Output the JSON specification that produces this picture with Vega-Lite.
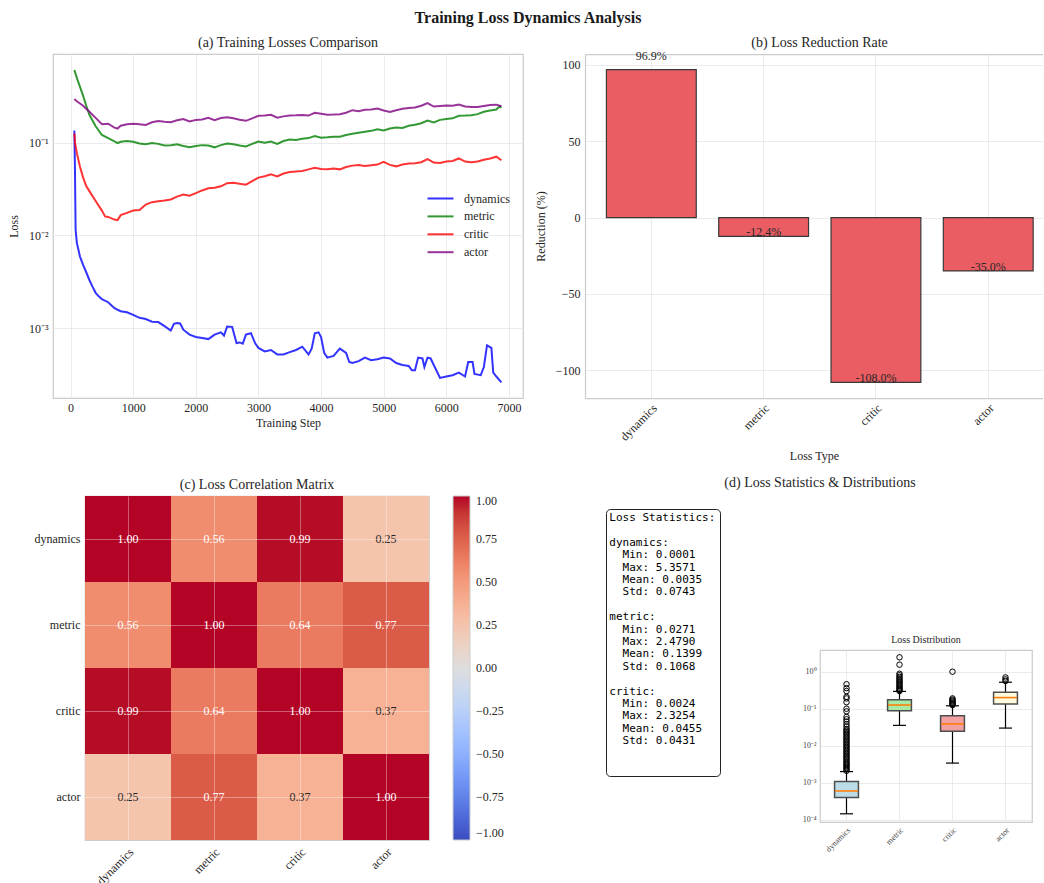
{
  "$schema": "https://vega.github.io/schema/vega-lite/v6.json",
  "padding": {"left": 6, "top": 10, "right": 0, "bottom": 0},
  "background": "white",
  "config": {
    "font": "Liberation Serif",
    "view": {"stroke": null},
    "axis": {
      "labelFont": "Liberation Serif", "titleFont": "Liberation Serif",
      "labelFontSize": 12, "titleFontSize": 12, "titleFontWeight": "normal",
      "labelColor": "#262626", "titleColor": "#262626",
      "gridColor": "#e6e6e6", "gridWidth": 0.8,
      "domain": false, "ticks": false, "tickSize": 0, "labelPadding": 4
    },
    "legend": {"labelFont": "Liberation Serif", "labelFontSize": 12, "labelColor": "#262626"},
    "title": {"font": "Liberation Serif", "fontSize": 14, "fontWeight": "normal", "color": "#262626", "offset": 4, "frame": "group"},
    "text": {"font": "Liberation Serif"}
  },
  "datasets": {
    "losses": [
      {"series": "dynamics", "step": 60, "loss": 0.135},
      {"series": "dynamics", "step": 70, "loss": 0.05},
      {"series": "dynamics", "step": 80, "loss": 0.0115},
      {"series": "dynamics", "step": 100, "loss": 0.0083},
      {"series": "dynamics", "step": 150, "loss": 0.0059},
      {"series": "dynamics", "step": 200, "loss": 0.0048},
      {"series": "dynamics", "step": 250, "loss": 0.004},
      {"series": "dynamics", "step": 300, "loss": 0.0033},
      {"series": "dynamics", "step": 350, "loss": 0.0028},
      {"series": "dynamics", "step": 400, "loss": 0.0024},
      {"series": "dynamics", "step": 450, "loss": 0.0022},
      {"series": "dynamics", "step": 500, "loss": 0.00205},
      {"series": "dynamics", "step": 600, "loss": 0.0019},
      {"series": "dynamics", "step": 700, "loss": 0.00164},
      {"series": "dynamics", "step": 800, "loss": 0.00152},
      {"series": "dynamics", "step": 900, "loss": 0.00148},
      {"series": "dynamics", "step": 1000, "loss": 0.00139},
      {"series": "dynamics", "step": 1100, "loss": 0.00129},
      {"series": "dynamics", "step": 1200, "loss": 0.00125},
      {"series": "dynamics", "step": 1300, "loss": 0.00117},
      {"series": "dynamics", "step": 1400, "loss": 0.00116},
      {"series": "dynamics", "step": 1500, "loss": 0.00105},
      {"series": "dynamics", "step": 1600, "loss": 0.00094},
      {"series": "dynamics", "step": 1650, "loss": 0.00111},
      {"series": "dynamics", "step": 1700, "loss": 0.00113},
      {"series": "dynamics", "step": 1750, "loss": 0.00112},
      {"series": "dynamics", "step": 1800, "loss": 0.00096},
      {"series": "dynamics", "step": 1900, "loss": 0.00085},
      {"series": "dynamics", "step": 2000, "loss": 0.0008},
      {"series": "dynamics", "step": 2100, "loss": 0.00078},
      {"series": "dynamics", "step": 2200, "loss": 0.00076},
      {"series": "dynamics", "step": 2300, "loss": 0.00085},
      {"series": "dynamics", "step": 2400, "loss": 0.0009},
      {"series": "dynamics", "step": 2450, "loss": 0.00083},
      {"series": "dynamics", "step": 2500, "loss": 0.00104},
      {"series": "dynamics", "step": 2580, "loss": 0.00103},
      {"series": "dynamics", "step": 2650, "loss": 0.00069},
      {"series": "dynamics", "step": 2700, "loss": 0.0007},
      {"series": "dynamics", "step": 2750, "loss": 0.00068},
      {"series": "dynamics", "step": 2800, "loss": 0.00085},
      {"series": "dynamics", "step": 2880, "loss": 0.00088},
      {"series": "dynamics", "step": 2950, "loss": 0.00068},
      {"series": "dynamics", "step": 3000, "loss": 0.00061},
      {"series": "dynamics", "step": 3100, "loss": 0.00056},
      {"series": "dynamics", "step": 3200, "loss": 0.00058},
      {"series": "dynamics", "step": 3300, "loss": 0.00052},
      {"series": "dynamics", "step": 3400, "loss": 0.00052},
      {"series": "dynamics", "step": 3500, "loss": 0.00055},
      {"series": "dynamics", "step": 3600, "loss": 0.00058},
      {"series": "dynamics", "step": 3700, "loss": 0.00063},
      {"series": "dynamics", "step": 3800, "loss": 0.00052},
      {"series": "dynamics", "step": 3850, "loss": 0.0006},
      {"series": "dynamics", "step": 3900, "loss": 0.00088},
      {"series": "dynamics", "step": 3960, "loss": 0.0009},
      {"series": "dynamics", "step": 4000, "loss": 0.0008},
      {"series": "dynamics", "step": 4050, "loss": 0.00054},
      {"series": "dynamics", "step": 4100, "loss": 0.00048},
      {"series": "dynamics", "step": 4200, "loss": 0.0005},
      {"series": "dynamics", "step": 4300, "loss": 0.0006},
      {"series": "dynamics", "step": 4400, "loss": 0.00054},
      {"series": "dynamics", "step": 4450, "loss": 0.00043},
      {"series": "dynamics", "step": 4500, "loss": 0.00042},
      {"series": "dynamics", "step": 4600, "loss": 0.00044},
      {"series": "dynamics", "step": 4700, "loss": 0.00048},
      {"series": "dynamics", "step": 4800, "loss": 0.00045},
      {"series": "dynamics", "step": 4900, "loss": 0.00046},
      {"series": "dynamics", "step": 5000, "loss": 0.00048},
      {"series": "dynamics", "step": 5100, "loss": 0.00047},
      {"series": "dynamics", "step": 5200, "loss": 0.00042},
      {"series": "dynamics", "step": 5300, "loss": 0.0004},
      {"series": "dynamics", "step": 5400, "loss": 0.00039},
      {"series": "dynamics", "step": 5450, "loss": 0.00035},
      {"series": "dynamics", "step": 5500, "loss": 0.00035},
      {"series": "dynamics", "step": 5550, "loss": 0.00048},
      {"series": "dynamics", "step": 5620, "loss": 0.00047},
      {"series": "dynamics", "step": 5650, "loss": 0.00038},
      {"series": "dynamics", "step": 5700, "loss": 0.00048},
      {"series": "dynamics", "step": 5750, "loss": 0.00047},
      {"series": "dynamics", "step": 5800, "loss": 0.0004},
      {"series": "dynamics", "step": 5850, "loss": 0.00034},
      {"series": "dynamics", "step": 5900, "loss": 0.00029},
      {"series": "dynamics", "step": 6000, "loss": 0.0003},
      {"series": "dynamics", "step": 6100, "loss": 0.00031},
      {"series": "dynamics", "step": 6200, "loss": 0.00033},
      {"series": "dynamics", "step": 6300, "loss": 0.0003},
      {"series": "dynamics", "step": 6350, "loss": 0.00043},
      {"series": "dynamics", "step": 6420, "loss": 0.00043},
      {"series": "dynamics", "step": 6450, "loss": 0.00032},
      {"series": "dynamics", "step": 6550, "loss": 0.00031},
      {"series": "dynamics", "step": 6600, "loss": 0.00038},
      {"series": "dynamics", "step": 6650, "loss": 0.00065},
      {"series": "dynamics", "step": 6720, "loss": 0.00061},
      {"series": "dynamics", "step": 6750, "loss": 0.00033},
      {"series": "dynamics", "step": 6800, "loss": 0.0003},
      {"series": "dynamics", "step": 6880, "loss": 0.00026},

      {"series": "metric", "step": 60, "loss": 0.607},
      {"series": "metric", "step": 100, "loss": 0.5},
      {"series": "metric", "step": 150, "loss": 0.4},
      {"series": "metric", "step": 200, "loss": 0.32},
      {"series": "metric", "step": 250, "loss": 0.25},
      {"series": "metric", "step": 300, "loss": 0.2},
      {"series": "metric", "step": 400, "loss": 0.15},
      {"series": "metric", "step": 500, "loss": 0.121},
      {"series": "metric", "step": 600, "loss": 0.112},
      {"series": "metric", "step": 700, "loss": 0.103},
      {"series": "metric", "step": 750, "loss": 0.099},
      {"series": "metric", "step": 800, "loss": 0.102},
      {"series": "metric", "step": 900, "loss": 0.104},
      {"series": "metric", "step": 1000, "loss": 0.102},
      {"series": "metric", "step": 1100, "loss": 0.098},
      {"series": "metric", "step": 1200, "loss": 0.096},
      {"series": "metric", "step": 1300, "loss": 0.099},
      {"series": "metric", "step": 1400, "loss": 0.097},
      {"series": "metric", "step": 1500, "loss": 0.093},
      {"series": "metric", "step": 1600, "loss": 0.094},
      {"series": "metric", "step": 1700, "loss": 0.096},
      {"series": "metric", "step": 1800, "loss": 0.092},
      {"series": "metric", "step": 1900, "loss": 0.089},
      {"series": "metric", "step": 2000, "loss": 0.092},
      {"series": "metric", "step": 2100, "loss": 0.094},
      {"series": "metric", "step": 2200, "loss": 0.093},
      {"series": "metric", "step": 2300, "loss": 0.089},
      {"series": "metric", "step": 2400, "loss": 0.094},
      {"series": "metric", "step": 2500, "loss": 0.098},
      {"series": "metric", "step": 2600, "loss": 0.096},
      {"series": "metric", "step": 2700, "loss": 0.093},
      {"series": "metric", "step": 2800, "loss": 0.091},
      {"series": "metric", "step": 2900, "loss": 0.097},
      {"series": "metric", "step": 3000, "loss": 0.103},
      {"series": "metric", "step": 3100, "loss": 0.1},
      {"series": "metric", "step": 3200, "loss": 0.103},
      {"series": "metric", "step": 3300, "loss": 0.097},
      {"series": "metric", "step": 3400, "loss": 0.104},
      {"series": "metric", "step": 3500, "loss": 0.108},
      {"series": "metric", "step": 3600, "loss": 0.107},
      {"series": "metric", "step": 3700, "loss": 0.11},
      {"series": "metric", "step": 3800, "loss": 0.112},
      {"series": "metric", "step": 3900, "loss": 0.118},
      {"series": "metric", "step": 4000, "loss": 0.113},
      {"series": "metric", "step": 4100, "loss": 0.114},
      {"series": "metric", "step": 4200, "loss": 0.116},
      {"series": "metric", "step": 4300, "loss": 0.116},
      {"series": "metric", "step": 4400, "loss": 0.121},
      {"series": "metric", "step": 4500, "loss": 0.125},
      {"series": "metric", "step": 4600, "loss": 0.128},
      {"series": "metric", "step": 4700, "loss": 0.131},
      {"series": "metric", "step": 4800, "loss": 0.134},
      {"series": "metric", "step": 4900, "loss": 0.139},
      {"series": "metric", "step": 5000, "loss": 0.135},
      {"series": "metric", "step": 5100, "loss": 0.142},
      {"series": "metric", "step": 5200, "loss": 0.146},
      {"series": "metric", "step": 5300, "loss": 0.144},
      {"series": "metric", "step": 5400, "loss": 0.152},
      {"series": "metric", "step": 5500, "loss": 0.156},
      {"series": "metric", "step": 5600, "loss": 0.162},
      {"series": "metric", "step": 5700, "loss": 0.173},
      {"series": "metric", "step": 5800, "loss": 0.165},
      {"series": "metric", "step": 5900, "loss": 0.176},
      {"series": "metric", "step": 6000, "loss": 0.18},
      {"series": "metric", "step": 6100, "loss": 0.183},
      {"series": "metric", "step": 6200, "loss": 0.195},
      {"series": "metric", "step": 6300, "loss": 0.196},
      {"series": "metric", "step": 6400, "loss": 0.198},
      {"series": "metric", "step": 6500, "loss": 0.203},
      {"series": "metric", "step": 6600, "loss": 0.215},
      {"series": "metric", "step": 6700, "loss": 0.222},
      {"series": "metric", "step": 6800, "loss": 0.228},
      {"series": "metric", "step": 6850, "loss": 0.246},
      {"series": "metric", "step": 6880, "loss": 0.238},

      {"series": "critic", "step": 60, "loss": 0.126},
      {"series": "critic", "step": 70, "loss": 0.1},
      {"series": "critic", "step": 100, "loss": 0.077},
      {"series": "critic", "step": 150, "loss": 0.055},
      {"series": "critic", "step": 200, "loss": 0.042},
      {"series": "critic", "step": 250, "loss": 0.034},
      {"series": "critic", "step": 300, "loss": 0.03},
      {"series": "critic", "step": 400, "loss": 0.0235},
      {"series": "critic", "step": 500, "loss": 0.0185},
      {"series": "critic", "step": 550, "loss": 0.016},
      {"series": "critic", "step": 600, "loss": 0.0158},
      {"series": "critic", "step": 700, "loss": 0.0148},
      {"series": "critic", "step": 750, "loss": 0.0146},
      {"series": "critic", "step": 800, "loss": 0.0165},
      {"series": "critic", "step": 900, "loss": 0.0175},
      {"series": "critic", "step": 1000, "loss": 0.0185},
      {"series": "critic", "step": 1100, "loss": 0.0188},
      {"series": "critic", "step": 1200, "loss": 0.0215},
      {"series": "critic", "step": 1300, "loss": 0.0228},
      {"series": "critic", "step": 1400, "loss": 0.0233},
      {"series": "critic", "step": 1500, "loss": 0.0237},
      {"series": "critic", "step": 1600, "loss": 0.0244},
      {"series": "critic", "step": 1700, "loss": 0.0262},
      {"series": "critic", "step": 1800, "loss": 0.0275},
      {"series": "critic", "step": 1900, "loss": 0.0268},
      {"series": "critic", "step": 2000, "loss": 0.0285},
      {"series": "critic", "step": 2100, "loss": 0.0305},
      {"series": "critic", "step": 2200, "loss": 0.0322},
      {"series": "critic", "step": 2300, "loss": 0.0326},
      {"series": "critic", "step": 2400, "loss": 0.0338},
      {"series": "critic", "step": 2500, "loss": 0.0365},
      {"series": "critic", "step": 2600, "loss": 0.037},
      {"series": "critic", "step": 2700, "loss": 0.036},
      {"series": "critic", "step": 2800, "loss": 0.0352},
      {"series": "critic", "step": 2900, "loss": 0.0385},
      {"series": "critic", "step": 3000, "loss": 0.042},
      {"series": "critic", "step": 3100, "loss": 0.0435},
      {"series": "critic", "step": 3200, "loss": 0.0455},
      {"series": "critic", "step": 3300, "loss": 0.0432},
      {"series": "critic", "step": 3400, "loss": 0.0465},
      {"series": "critic", "step": 3500, "loss": 0.0482},
      {"series": "critic", "step": 3600, "loss": 0.0488},
      {"series": "critic", "step": 3700, "loss": 0.0495},
      {"series": "critic", "step": 3800, "loss": 0.0515},
      {"series": "critic", "step": 3900, "loss": 0.0535},
      {"series": "critic", "step": 4000, "loss": 0.052},
      {"series": "critic", "step": 4100, "loss": 0.0515},
      {"series": "critic", "step": 4200, "loss": 0.0525},
      {"series": "critic", "step": 4300, "loss": 0.0515},
      {"series": "critic", "step": 4400, "loss": 0.0545},
      {"series": "critic", "step": 4500, "loss": 0.0565},
      {"series": "critic", "step": 4600, "loss": 0.0575},
      {"series": "critic", "step": 4700, "loss": 0.056},
      {"series": "critic", "step": 4800, "loss": 0.057},
      {"series": "critic", "step": 4900, "loss": 0.058},
      {"series": "critic", "step": 5000, "loss": 0.062},
      {"series": "critic", "step": 5100, "loss": 0.0575},
      {"series": "critic", "step": 5200, "loss": 0.0555},
      {"series": "critic", "step": 5300, "loss": 0.058},
      {"series": "critic", "step": 5400, "loss": 0.0595},
      {"series": "critic", "step": 5500, "loss": 0.06},
      {"series": "critic", "step": 5600, "loss": 0.0615},
      {"series": "critic", "step": 5700, "loss": 0.0665},
      {"series": "critic", "step": 5800, "loss": 0.061},
      {"series": "critic", "step": 5900, "loss": 0.0605},
      {"series": "critic", "step": 6000, "loss": 0.0625},
      {"series": "critic", "step": 6100, "loss": 0.0635},
      {"series": "critic", "step": 6200, "loss": 0.0675},
      {"series": "critic", "step": 6300, "loss": 0.0625},
      {"series": "critic", "step": 6400, "loss": 0.0615},
      {"series": "critic", "step": 6500, "loss": 0.0625},
      {"series": "critic", "step": 6600, "loss": 0.0655},
      {"series": "critic", "step": 6700, "loss": 0.0675},
      {"series": "critic", "step": 6800, "loss": 0.0705},
      {"series": "critic", "step": 6880, "loss": 0.0645},

      {"series": "actor", "step": 60, "loss": 0.295},
      {"series": "actor", "step": 100, "loss": 0.28},
      {"series": "actor", "step": 200, "loss": 0.25},
      {"series": "actor", "step": 300, "loss": 0.215},
      {"series": "actor", "step": 400, "loss": 0.185},
      {"series": "actor", "step": 500, "loss": 0.158},
      {"series": "actor", "step": 600, "loss": 0.16},
      {"series": "actor", "step": 700, "loss": 0.145},
      {"series": "actor", "step": 750, "loss": 0.142},
      {"series": "actor", "step": 800, "loss": 0.152},
      {"series": "actor", "step": 900, "loss": 0.158},
      {"series": "actor", "step": 1000, "loss": 0.16},
      {"series": "actor", "step": 1100, "loss": 0.158},
      {"series": "actor", "step": 1200, "loss": 0.155},
      {"series": "actor", "step": 1300, "loss": 0.166},
      {"series": "actor", "step": 1400, "loss": 0.171},
      {"series": "actor", "step": 1500, "loss": 0.168},
      {"series": "actor", "step": 1600, "loss": 0.166},
      {"series": "actor", "step": 1700, "loss": 0.174},
      {"series": "actor", "step": 1800, "loss": 0.18},
      {"series": "actor", "step": 1900, "loss": 0.169},
      {"series": "actor", "step": 2000, "loss": 0.176},
      {"series": "actor", "step": 2100, "loss": 0.178},
      {"series": "actor", "step": 2200, "loss": 0.185},
      {"series": "actor", "step": 2300, "loss": 0.175},
      {"series": "actor", "step": 2400, "loss": 0.184},
      {"series": "actor", "step": 2500, "loss": 0.188},
      {"series": "actor", "step": 2600, "loss": 0.183},
      {"series": "actor", "step": 2700, "loss": 0.177},
      {"series": "actor", "step": 2800, "loss": 0.172},
      {"series": "actor", "step": 2900, "loss": 0.183},
      {"series": "actor", "step": 3000, "loss": 0.195},
      {"series": "actor", "step": 3100, "loss": 0.196},
      {"series": "actor", "step": 3200, "loss": 0.2},
      {"series": "actor", "step": 3300, "loss": 0.186},
      {"series": "actor", "step": 3400, "loss": 0.192},
      {"series": "actor", "step": 3500, "loss": 0.196},
      {"series": "actor", "step": 3600, "loss": 0.197},
      {"series": "actor", "step": 3700, "loss": 0.199},
      {"series": "actor", "step": 3800, "loss": 0.196},
      {"series": "actor", "step": 3900, "loss": 0.21},
      {"series": "actor", "step": 4000, "loss": 0.205},
      {"series": "actor", "step": 4100, "loss": 0.2},
      {"series": "actor", "step": 4200, "loss": 0.201},
      {"series": "actor", "step": 4300, "loss": 0.203},
      {"series": "actor", "step": 4400, "loss": 0.21},
      {"series": "actor", "step": 4500, "loss": 0.224},
      {"series": "actor", "step": 4600, "loss": 0.218},
      {"series": "actor", "step": 4700, "loss": 0.226},
      {"series": "actor", "step": 4800, "loss": 0.228},
      {"series": "actor", "step": 4900, "loss": 0.233},
      {"series": "actor", "step": 5000, "loss": 0.222},
      {"series": "actor", "step": 5100, "loss": 0.214},
      {"series": "actor", "step": 5200, "loss": 0.224},
      {"series": "actor", "step": 5300, "loss": 0.232},
      {"series": "actor", "step": 5400, "loss": 0.237},
      {"series": "actor", "step": 5500, "loss": 0.24},
      {"series": "actor", "step": 5600, "loss": 0.25},
      {"series": "actor", "step": 5700, "loss": 0.267},
      {"series": "actor", "step": 5750, "loss": 0.255},
      {"series": "actor", "step": 5800, "loss": 0.245},
      {"series": "actor", "step": 5900, "loss": 0.249},
      {"series": "actor", "step": 6000, "loss": 0.252},
      {"series": "actor", "step": 6100, "loss": 0.25},
      {"series": "actor", "step": 6200, "loss": 0.257},
      {"series": "actor", "step": 6300, "loss": 0.245},
      {"series": "actor", "step": 6400, "loss": 0.243},
      {"series": "actor", "step": 6500, "loss": 0.242},
      {"series": "actor", "step": 6600, "loss": 0.249},
      {"series": "actor", "step": 6700, "loss": 0.255},
      {"series": "actor", "step": 6800, "loss": 0.257},
      {"series": "actor", "step": 6880, "loss": 0.247}
    ],
    "reduction": [
      {"loss": "dynamics", "reduction": 96.9},
      {"loss": "metric", "reduction": -12.4},
      {"loss": "critic", "reduction": -108.0},
      {"loss": "actor", "reduction": -35.0}
    ],
    "corr": [
      {"row": "dynamics", "col": "dynamics", "r": 1.0},
      {"row": "dynamics", "col": "metric", "r": 0.56},
      {"row": "dynamics", "col": "critic", "r": 0.99},
      {"row": "dynamics", "col": "actor", "r": 0.25},
      {"row": "metric", "col": "dynamics", "r": 0.56},
      {"row": "metric", "col": "metric", "r": 1.0},
      {"row": "metric", "col": "critic", "r": 0.64},
      {"row": "metric", "col": "actor", "r": 0.77},
      {"row": "critic", "col": "dynamics", "r": 0.99},
      {"row": "critic", "col": "metric", "r": 0.64},
      {"row": "critic", "col": "critic", "r": 1.0},
      {"row": "critic", "col": "actor", "r": 0.37},
      {"row": "actor", "col": "dynamics", "r": 0.25},
      {"row": "actor", "col": "metric", "r": 0.77},
      {"row": "actor", "col": "critic", "r": 0.37},
      {"row": "actor", "col": "actor", "r": 1.0}
    ],
    "stats": [
      {"report": "Loss Statistics:\n\u200b\ndynamics:\n\u200b\u00a0\u00a0Min: 0.0001\n\u200b\u00a0\u00a0Max: 5.3571\n\u200b\u00a0\u00a0Mean: 0.0035\n\u200b\u00a0\u00a0Std: 0.0743\n\u200b\nmetric:\n\u200b\u00a0\u00a0Min: 0.0271\n\u200b\u00a0\u00a0Max: 2.4790\n\u200b\u00a0\u00a0Mean: 0.1399\n\u200b\u00a0\u00a0Std: 0.1068\n\u200b\ncritic:\n\u200b\u00a0\u00a0Min: 0.0024\n\u200b\u00a0\u00a0Max: 2.3254\n\u200b\u00a0\u00a0Mean: 0.0455\n\u200b\u00a0\u00a0Std: 0.0431"}
    ],
    "boxstats": [
      {"loss": "dynamics", "lower": 0.000145, "q1": 0.0004, "median": 0.0006, "q3": 0.00108, "upper": 0.002},
      {"loss": "metric", "lower": 0.0355, "q1": 0.088, "median": 0.126, "q3": 0.175, "upper": 0.294},
      {"loss": "critic", "lower": 0.0034, "q1": 0.0246, "median": 0.039, "q3": 0.065, "upper": 0.12},
      {"loss": "actor", "lower": 0.03, "q1": 0.134, "median": 0.2, "q3": 0.28, "upper": 0.52}
    ],
    "outliers": [
      {"loss": "dynamics", "value": 0.0021}, {"loss": "dynamics", "value": 0.0023}, {"loss": "dynamics", "value": 0.0025},
      {"loss": "dynamics", "value": 0.0027}, {"loss": "dynamics", "value": 0.003}, {"loss": "dynamics", "value": 0.0032},
      {"loss": "dynamics", "value": 0.0035}, {"loss": "dynamics", "value": 0.0038}, {"loss": "dynamics", "value": 0.0042},
      {"loss": "dynamics", "value": 0.0046}, {"loss": "dynamics", "value": 0.005}, {"loss": "dynamics", "value": 0.0055},
      {"loss": "dynamics", "value": 0.006}, {"loss": "dynamics", "value": 0.0066}, {"loss": "dynamics", "value": 0.0072},
      {"loss": "dynamics", "value": 0.0079}, {"loss": "dynamics", "value": 0.0087}, {"loss": "dynamics", "value": 0.0095},
      {"loss": "dynamics", "value": 0.0104}, {"loss": "dynamics", "value": 0.0114}, {"loss": "dynamics", "value": 0.0125},
      {"loss": "dynamics", "value": 0.0137}, {"loss": "dynamics", "value": 0.015}, {"loss": "dynamics", "value": 0.0165},
      {"loss": "dynamics", "value": 0.018}, {"loss": "dynamics", "value": 0.0198}, {"loss": "dynamics", "value": 0.0217},
      {"loss": "dynamics", "value": 0.0238}, {"loss": "dynamics", "value": 0.026}, {"loss": "dynamics", "value": 0.0285},
      {"loss": "dynamics", "value": 0.033}, {"loss": "dynamics", "value": 0.038}, {"loss": "dynamics", "value": 0.045},
      {"loss": "dynamics", "value": 0.052}, {"loss": "dynamics", "value": 0.06}, {"loss": "dynamics", "value": 0.085},
      {"loss": "dynamics", "value": 0.1}, {"loss": "dynamics", "value": 0.15}, {"loss": "dynamics", "value": 0.19},
      {"loss": "dynamics", "value": 0.21}, {"loss": "dynamics", "value": 0.3}, {"loss": "dynamics", "value": 0.36},
      {"loss": "dynamics", "value": 0.46},
      {"loss": "metric", "value": 0.3}, {"loss": "metric", "value": 0.32}, {"loss": "metric", "value": 0.34},
      {"loss": "metric", "value": 0.37}, {"loss": "metric", "value": 0.4}, {"loss": "metric", "value": 0.43},
      {"loss": "metric", "value": 0.47}, {"loss": "metric", "value": 0.51}, {"loss": "metric", "value": 0.55},
      {"loss": "metric", "value": 0.6}, {"loss": "metric", "value": 0.66}, {"loss": "metric", "value": 0.72},
      {"loss": "metric", "value": 0.8}, {"loss": "metric", "value": 0.88}, {"loss": "metric", "value": 1.55},
      {"loss": "metric", "value": 2.45},
      {"loss": "critic", "value": 0.125}, {"loss": "critic", "value": 0.132}, {"loss": "critic", "value": 0.14},
      {"loss": "critic", "value": 0.148}, {"loss": "critic", "value": 0.157}, {"loss": "critic", "value": 0.166},
      {"loss": "critic", "value": 0.176}, {"loss": "critic", "value": 0.19}, {"loss": "critic", "value": 1.0},
      {"loss": "actor", "value": 0.56}, {"loss": "actor", "value": 0.62}, {"loss": "actor", "value": 0.7}
    ]
  },
  "vconcat": [
    {
      "width": 990, "height": 1,
      "title": {"text": "Training Loss Dynamics Analysis", "fontSize": 16, "fontWeight": "bold", "color": "#1a1a1a", "dx": -20, "offset": 27},
      "data": {"values": []}, "mark": "point"
    },
    {
      "hconcat": [
        {
          "width": 470, "height": 344,
          "title": {"text": "(a) Training Losses Comparison", "offset": 3.6},
          "data": {"name": "losses"},
          "view": {"stroke": "#cccccc", "strokeWidth": 1.25},
          "mark": {"type": "line", "strokeWidth": 2, "opacity": 0.8, "clip": true},
          "encoding": {
            "x": {"field": "step", "type": "quantitative",
                  "scale": {"domain": [-281, 7225], "nice": false, "zero": false},
                  "axis": {"title": "Training Step", "values": [0, 1000, 2000, 3000, 4000, 5000, 6000, 7000], "format": "d", "labelPadding": 4, "titlePadding": 4}},
            "y": {"field": "loss", "type": "quantitative",
                  "scale": {"type": "log", "domain": [0.000176, 0.904], "nice": false},
                  "axis": {"title": "Loss", "values": [0.001, 0.01, 0.1], "titleX": -33, "labelPadding": 5,
                           "labelExpr": "datum.value == 0.1 ? '10⁻¹' : datum.value == 0.01 ? '10⁻²' : '10⁻³'"}},
            "color": {"field": "series", "type": "nominal",
                      "scale": {"domain": ["dynamics", "metric", "critic", "actor"], "range": ["#0000ff", "#008000", "#ff0000", "#800080"]},
                      "legend": {"title": null, "orient": "none", "legendX": 380, "legendY": 137,
                                 "symbolType": "M-2,0L2,0", "symbolSize": 169, "symbolStrokeWidth": 2, "symbolOpacity": 0.8,
                                 "labelOffset": 16, "rowPadding": 3.9, "padding": 0, "labelFontSize": 12}}
          }
        },
        {
          "width": 458, "height": 344,
          "title": {"text": "(b) Loss Reduction Rate", "dx": 5.6, "offset": 0},
          "data": {"name": "reduction"},
          "transform": [{"calculate": "replace(format(datum.reduction, '.1f'), '\u2212', '-') + '%'", "as": "label"}],
          "layer": [
            {
              "mark": {"type": "bar", "fill": "#e95d63", "stroke": "#3a3a3a", "strokeWidth": 1.2},
              "encoding": {
                "x": {"field": "loss", "type": "nominal", "sort": null,
                      "scale": {"paddingInner": 0.2, "paddingOuter": 0.1392, "align": 0.685},
                      "axis": {"title": "Loss Type", "labelAngle": -45, "labelAlign": "right", "labelBaseline": "top",
                               "labelPadding": 4, "titlePadding": 8, "grid": true, "bandPosition": 0.5,
                               "domain": true, "domainColor": "#cccccc", "domainWidth": 1.25}},
                "y": {"field": "reduction", "type": "quantitative",
                      "scale": {"domain": [-118.2, 107.1], "nice": false, "zero": false},
                      "axis": {"title": "Reduction (%)", "values": [-100, -50, 0, 50, 100], "labelPadding": 5, "titlePadding": 8,
                               "domain": true, "domainColor": "#cccccc", "domainWidth": 1.25}}
              }
            },
            {
              "transform": [{"filter": "datum.reduction > 0"}],
              "mark": {"type": "text", "baseline": "middle", "dy": -14, "fontSize": 12, "color": "#262626"},
              "encoding": {
                "x": {"field": "loss", "type": "nominal", "sort": null,
                      "axis": {"orient": "top", "labels": false, "labelPadding": 0, "title": null, "grid": false,
                               "domain": true, "domainColor": "#cccccc", "domainWidth": 1.25}},
                "y": {"field": "reduction", "type": "quantitative"},
                "text": {"field": "label"}
              }
            },
            {
              "transform": [{"filter": "datum.reduction <= 0"}],
              "mark": {"type": "text", "baseline": "middle", "dy": -4, "fontSize": 12, "color": "#262626"},
              "encoding": {
                "x": {"field": "loss", "type": "nominal", "sort": null, "axis": null},
                "y": {"field": "reduction", "type": "quantitative"},
                "text": {"field": "label"}
              }
            }
          ],
          "resolve": {"axis": {"x": "independent"}}
        }
      ],
      "spacing": 62,
      "bounds": "flush"
    },
    {"width": 1, "height": 442, "data": {"values": []}, "mark": "point"},
    {
      "hconcat": [
        {"width": 32, "height": 10, "data": {"values": []}, "mark": "point"},
        {
          "width": 344, "height": 344,
          "title": {"text": "(c) Loss Correlation Matrix", "offset": 4.4},
          "data": {"name": "corr"},
          "view": {"stroke": "#cccccc", "strokeWidth": 1.25},
          "encoding": {
            "x": {"field": "col", "type": "nominal", "sort": ["dynamics", "metric", "critic", "actor"],
                  "scale": {"paddingInner": 0, "paddingOuter": 0},
                  "axis": {"title": null, "labelAngle": -45, "labelAlign": "right", "labelBaseline": "top", "labelPadding": 6,
                           "grid": true, "bandPosition": 0.5, "gridColor": "#ffffff", "gridOpacity": 0.35, "gridWidth": 1, "zindex": 1}},
            "y": {"field": "row", "type": "nominal", "sort": ["dynamics", "metric", "critic", "actor"],
                  "scale": {"paddingInner": 0, "paddingOuter": 0},
                  "axis": {"title": null, "labelPadding": 5,
                           "grid": true, "bandPosition": 0.5, "gridColor": "#ffffff", "gridOpacity": 0.35, "gridWidth": 1, "zindex": 1}}
          },
          "layer": [
            {
              "mark": {"type": "rect"},
              "encoding": {
                "color": {"field": "r", "type": "quantitative",
                          "scale": {"domain": [-1, -0.875, -0.75, -0.625, -0.5, -0.375, -0.25, -0.125, 0, 0.125, 0.25, 0.375, 0.5, 0.625, 0.75, 0.875, 1],
                                    "range": ["#3b4cc0", "#4d68d7", "#6282ea", "#779af7", "#8db0fe", "#a3c2ff", "#b8d0f9", "#ccd9ee", "#dddddd", "#ecd3c5", "#f5c4ad", "#f7b194", "#f49a7b", "#ec7f63", "#de604d", "#cb3e38", "#b40426"]},
                          "legend": {"title": null, "orient": "right", "offset": 24, "padding": 0, "direction": "vertical",
                                     "gradientLength": 344, "gradientThickness": 17, "gradientStrokeColor": "#cccccc", "gradientStrokeWidth": 1,
                                     "values": [-1, -0.75, -0.5, -0.25, 0, 0.25, 0.5, 0.75, 1], "format": ".2f",
                                     "labelOffset": 6, "labelOverlap": false, "labelBaseline": "middle", "labelFontSize": 12}}
              }
            },
            {
              "mark": {"type": "text", "fontSize": 12},
              "encoding": {
                "text": {"field": "r", "type": "quantitative", "format": ".2f"},
                "color": {"condition": {"test": "datum.r > 0.5", "value": "#ffffff"}, "value": "#262626"}
              }
            }
          ]
        },
        {"width": 177, "height": 10, "data": {"values": []}, "mark": "point"},
        {
          "hconcat": [
            {
              "vconcat": [
                {"width": 114, "height": 13, "data": {"values": []}, "mark": "point"},
                {
                  "width": 114, "height": 267,
                  "title": {"text": "(d) Loss Statistics & Distributions", "dx": 157, "offset": 19},
                  "data": {"name": "stats"},
                  "view": {"stroke": "#222222", "strokeWidth": 1, "cornerRadius": 4, "fill": "#ffffff"},
                  "mark": {"type": "text", "font": "DejaVu Sans Mono", "fontSize": 11, "lineBreak": "\n", "lineHeight": 12.4,
                           "align": "left", "baseline": "top", "color": "#000000"},
                  "encoding": {
                    "x": {"datum": 0.029, "type": "quantitative", "scale": {"domain": [0, 1], "nice": false}, "axis": null},
                    "y": {"datum": 0.989, "type": "quantitative", "scale": {"domain": [0, 1], "nice": false}, "axis": null},
                    "text": {"field": "report", "type": "nominal"}
                  }
                }
              ],
              "spacing": 0,
              "bounds": "flush"
            },
            {"width": 214, "height": 10, "data": {"values": []}, "mark": "point"},
            {
              "vconcat": [
                {"width": 212, "height": 154, "data": {"values": []}, "mark": "point"},
                {
                  "width": 212, "height": 172,
                  "title": {"text": "Loss Distribution", "fontSize": 10, "offset": 5},
                  "view": {"stroke": "#cccccc", "strokeWidth": 1.25},
                  "encoding": {
                    "x": {"field": "loss", "type": "nominal", "sort": ["dynamics", "metric", "critic", "actor"],
                          "scale": {"paddingInner": 0, "paddingOuter": 0},
                          "axis": {"title": null, "labelAngle": -45, "labelAlign": "right", "labelBaseline": "top", "labelFontSize": 8,
                                   "labelPadding": 4, "grid": true, "bandPosition": 0.5, "labelColor": "#444444"}}
                  },
                  "layer": [
                    {
                      "data": {"name": "boxstats"},
                      "mark": {"type": "rule", "color": "#000000", "strokeWidth": 1.2},
                      "encoding": {
                        "y": {"field": "lower", "type": "quantitative",
                              "scale": {"type": "log", "domain": [0.000087, 3.86], "nice": false},
                              "axis": {"title": null, "values": [0.0001, 0.001, 0.01, 0.1, 1], "labelFontSize": 8, "labelColor": "#444444", "labelPadding": 4,
                                       "labelExpr": "datum.value == 1 ? '10⁰' : datum.value == 0.1 ? '10⁻¹' : datum.value == 0.01 ? '10⁻²' : datum.value == 0.001 ? '10⁻³' : '10⁻⁴'"}},
                        "y2": {"field": "upper"}
                      }
                    },
                    {
                      "data": {"name": "boxstats"},
                      "mark": {"type": "bar", "width": {"band": 0.45}, "stroke": "#4d4d4d", "strokeWidth": 1.5},
                      "encoding": {
                        "y": {"field": "q1", "type": "quantitative"},
                        "y2": {"field": "q3"},
                        "fill": {"field": "loss", "type": "nominal",
                                 "scale": {"domain": ["dynamics", "metric", "critic", "actor"], "range": ["#bcdde8", "#a9eaa6", "#f2a1a1", "#fffbdf"]},
                                 "legend": null}
                      }
                    },
                    {
                      "data": {"name": "boxstats"},
                      "mark": {"type": "tick", "color": "#ff7f0e", "thickness": 1.6, "size": 23, "opacity": 1},
                      "encoding": {"y": {"field": "median", "type": "quantitative"}}
                    },
                    {
                      "data": {"name": "boxstats"},
                      "mark": {"type": "tick", "color": "#000000", "thickness": 1.2, "size": 13, "opacity": 1},
                      "encoding": {"y": {"field": "lower", "type": "quantitative"}}
                    },
                    {
                      "data": {"name": "boxstats"},
                      "mark": {"type": "tick", "color": "#000000", "thickness": 1.2, "size": 13, "opacity": 1},
                      "encoding": {"y": {"field": "upper", "type": "quantitative"}}
                    },
                    {
                      "data": {"name": "outliers"},
                      "mark": {"type": "point", "shape": "circle", "filled": false, "stroke": "#000000", "strokeWidth": 1, "size": 30, "opacity": 1},
                      "encoding": {"y": {"field": "value", "type": "quantitative"}}
                    }
                  ]
                }
              ],
              "spacing": 0,
              "bounds": "flush"
            }
          ],
          "spacing": 0,
          "bounds": "flush"
        }
      ],
      "spacing": 0,
      "bounds": "flush",
      "resolve": {"scale": {"color": "independent", "fill": "independent"}, "legend": {"color": "independent", "fill": "independent"}}
    }
  ],
  "spacing": 0,
  "bounds": "flush",
  "resolve": {"scale": {"color": "independent", "fill": "independent"}, "legend": {"color": "independent", "fill": "independent"}}
}
